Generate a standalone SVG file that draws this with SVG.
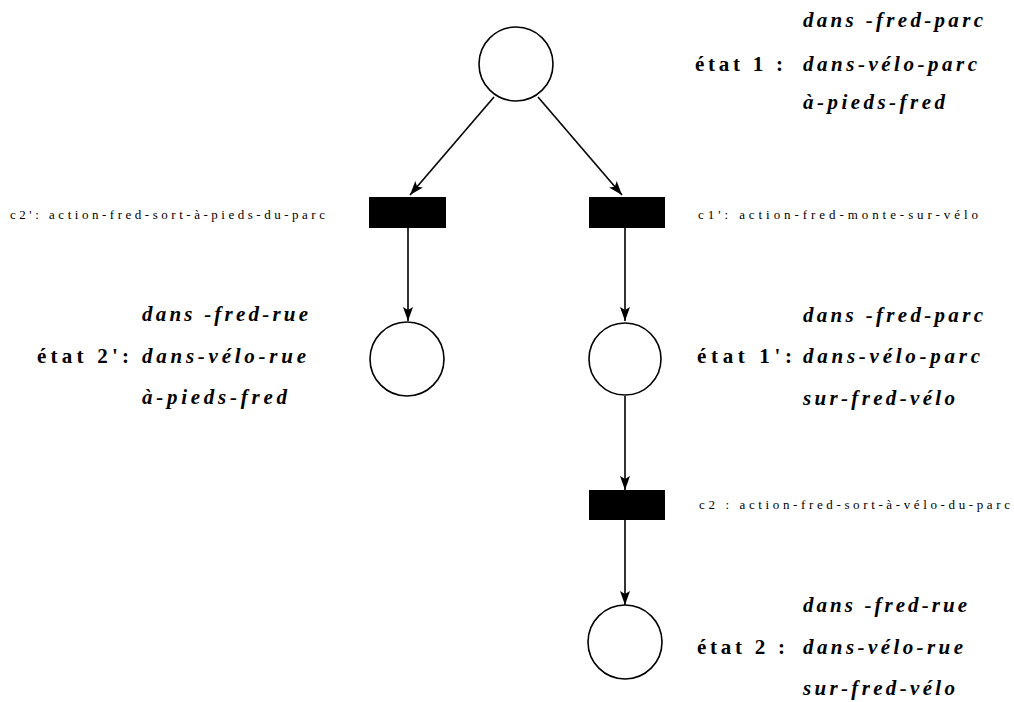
<svg xmlns="http://www.w3.org/2000/svg" width="1014" height="702" viewBox="0 0 1014 702">
<style>
.place{fill:#fff;stroke:#000;stroke-width:1.6}
.trans{fill:#000}
.arc{stroke:#000;stroke-width:1.6;fill:none;marker-end:url(#ah)}
.lbl{font-family:"Liberation Serif",serif;font-size:13px;fill:#000}
.st{font-family:"Liberation Serif",serif;font-size:21px;font-weight:bold;fill:#000}
.pr{font-family:"Liberation Serif",serif;font-size:21px;font-weight:bold;font-style:italic;fill:#000}
</style>
<defs>
<marker id="ah" markerUnits="userSpaceOnUse" markerWidth="16" markerHeight="12" refX="14" refY="5" orient="auto">
<path d="M0,0 L14,5 L0,10 L3,5 z" fill="#000"/>
</marker>
</defs>
<rect width="1014" height="702" fill="#fff"/>
<g id="connectors">
<line class="arc" x1="494" y1="97" x2="410" y2="195"/>
<line class="arc" x1="538" y1="97" x2="622" y2="195"/>
<line class="arc" x1="408" y1="228" x2="408" y2="321"/>
<line class="arc" x1="625" y1="228" x2="625" y2="321"/>
<line class="arc" x1="625" y1="396" x2="625" y2="490"/>
<line class="arc" x1="625" y1="520" x2="625" y2="605"/>
</g>
<g id="etat1">
<circle class="place" cx="516" cy="64" r="37"/>
<text class="pr" x="803" y="27" textLength="180" lengthAdjust="spacing">dans -fred-parc</text>
<text class="st" x="695" y="71" textLength="88" lengthAdjust="spacing">état 1 :</text>
<text class="pr" x="803" y="71" textLength="174" lengthAdjust="spacing">dans-vélo-parc</text>
<text class="pr" x="803" y="109" textLength="142" lengthAdjust="spacing">à-pieds-fred</text>
</g>
<g id="c2prime">
<rect class="trans" x="369" y="197" width="77" height="31"/>
<text class="lbl" x="10" y="219" textLength="315" lengthAdjust="spacing">c2': action-fred-sort-à-pieds-du-parc</text>
</g>
<g id="c1prime">
<rect class="trans" x="589" y="197" width="76" height="31"/>
<text class="lbl" x="698" y="219" textLength="280" lengthAdjust="spacing">c1': action-fred-monte-sur-vélo</text>
</g>
<g id="etat2prime">
<circle class="place" cx="407" cy="359" r="37"/>
<text class="pr" x="142" y="321" textLength="166" lengthAdjust="spacing">dans -fred-rue</text>
<text class="st" x="37" y="363" textLength="92" lengthAdjust="spacing">état 2':</text>
<text class="pr" x="142" y="363" textLength="164" lengthAdjust="spacing">dans-vélo-rue</text>
<text class="pr" x="142" y="404" textLength="145" lengthAdjust="spacing">à-pieds-fred</text>
</g>
<g id="etat1prime">
<circle class="place" cx="625" cy="359" r="36"/>
<text class="pr" x="803" y="322" textLength="180" lengthAdjust="spacing">dans -fred-parc</text>
<text class="st" x="697" y="363" textLength="95" lengthAdjust="spacing">état 1':</text>
<text class="pr" x="803" y="363" textLength="177" lengthAdjust="spacing">dans-vélo-parc</text>
<text class="pr" x="803" y="405" textLength="152" lengthAdjust="spacing">sur-fred-vélo</text>
</g>
<g id="c2">
<rect class="trans" x="589" y="490" width="76" height="30"/>
<text class="lbl" x="699" y="509" textLength="311" lengthAdjust="spacing">c2 : action-fred-sort-à-vélo-du-parc</text>
</g>
<g id="etat2">
<circle class="place" cx="625" cy="642" r="37"/>
<text class="pr" x="803" y="612" textLength="164" lengthAdjust="spacing">dans -fred-rue</text>
<text class="st" x="697" y="654" textLength="88" lengthAdjust="spacing">état 2 :</text>
<text class="pr" x="803" y="654" textLength="160" lengthAdjust="spacing">dans-vélo-rue</text>
<text class="pr" x="803" y="695" textLength="152" lengthAdjust="spacing">sur-fred-vélo</text>
</g>
</svg>
